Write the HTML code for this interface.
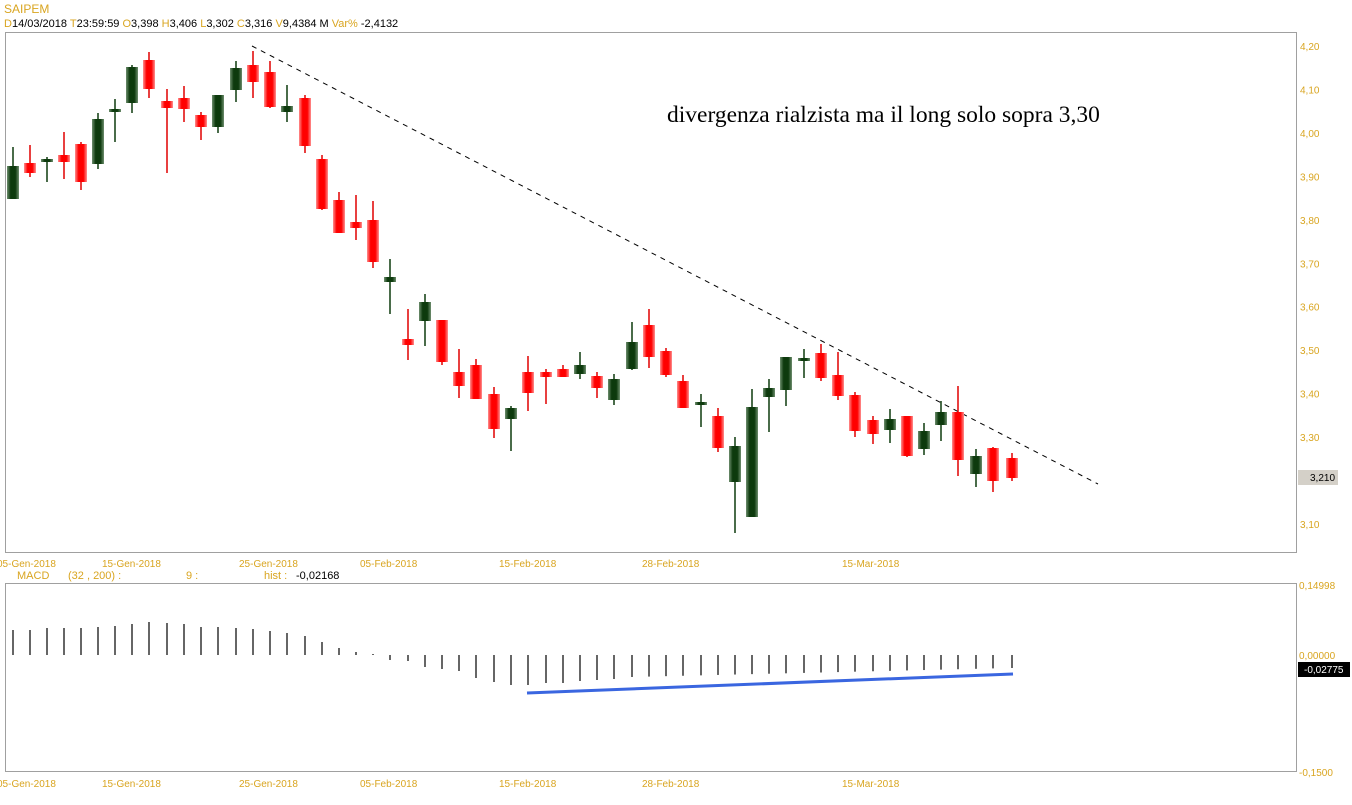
<!DOCTYPE html>
<html><head><meta charset="utf-8"><style>
body{margin:0;background:#fff;width:1352px;height:800px;overflow:hidden}
svg text{font-family:"Liberation Sans",sans-serif}
</style></head><body>
<svg id="s" width="1352" height="800" xmlns="http://www.w3.org/2000/svg">
<defs>
<linearGradient id="gr" x1="0" x2="1"><stop offset="0" stop-color="#6f8f6f"/><stop offset="0.3" stop-color="#0d3a0d"/><stop offset="0.7" stop-color="#0d3a0d"/><stop offset="1" stop-color="#6f8f6f"/></linearGradient>
<linearGradient id="rd" x1="0" x2="1"><stop offset="0" stop-color="#ff9090"/><stop offset="0.3" stop-color="#ff0000"/><stop offset="0.7" stop-color="#ff0000"/><stop offset="1" stop-color="#ff9090"/></linearGradient>
</defs>
<text x="4" y="13" font-size="12" fill="#d9a520">SAIPEM</text>
<text x="4" y="27" font-size="11" fill="#000"><tspan fill="#d9a520">D</tspan>14/03/2018 <tspan fill="#d9a520">T</tspan>23:59:59 <tspan fill="#d9a520">O</tspan>3,398 <tspan fill="#d9a520">H</tspan>3,406 <tspan fill="#d9a520">L</tspan>3,302 <tspan fill="#d9a520">C</tspan>3,316 <tspan fill="#d9a520">V</tspan>9,4384 M <tspan fill="#d9a520">Var%</tspan> -2,4132</text>
<rect x="5.5" y="32.5" width="1291" height="520" fill="none" stroke="#a0a0a0"/>
<rect x="5.5" y="583.5" width="1291" height="188" fill="none" stroke="#a0a0a0"/>
<line x1="252" y1="46" x2="1098" y2="484" stroke="#000" stroke-dasharray="5,5"/>
<text x="667" y="122" font-size="23.5" style="font-family:'Liberation Serif',serif">divergenza rialzista ma il long solo sopra 3,30</text>
<g id="c"></g>
<text x="-3" y="567" font-size="10" fill="#d9a520">05-Gen-2018</text>
<text x="102" y="567" font-size="10" fill="#d9a520">15-Gen-2018</text>
<text x="239" y="567" font-size="10" fill="#d9a520">25-Gen-2018</text>
<text x="360" y="567" font-size="10" fill="#d9a520">05-Feb-2018</text>
<text x="499" y="567" font-size="10" fill="#d9a520">15-Feb-2018</text>
<text x="642" y="567" font-size="10" fill="#d9a520">28-Feb-2018</text>
<text x="842" y="567" font-size="10" fill="#d9a520">15-Mar-2018</text>
<text x="17" y="579" font-size="11" fill="#d9a520">MACD</text>
<text x="68" y="579" font-size="11" fill="#d9a520">(32 , 200) :</text>
<text x="186" y="579" font-size="11" fill="#d9a520">9 :</text>
<text x="264" y="579" font-size="11" fill="#d9a520">hist :</text>
<text x="296" y="579" font-size="11" fill="#000">-0,02168</text>
<text x="-3" y="787" font-size="10" fill="#d9a520">05-Gen-2018</text>
<text x="102" y="787" font-size="10" fill="#d9a520">15-Gen-2018</text>
<text x="239" y="787" font-size="10" fill="#d9a520">25-Gen-2018</text>
<text x="360" y="787" font-size="10" fill="#d9a520">05-Feb-2018</text>
<text x="499" y="787" font-size="10" fill="#d9a520">15-Feb-2018</text>
<text x="642" y="787" font-size="10" fill="#d9a520">28-Feb-2018</text>
<text x="842" y="787" font-size="10" fill="#d9a520">15-Mar-2018</text>
<rect x="1298" y="470" width="40" height="15" fill="#d4d0c8"/>
<text x="1310" y="481" font-size="10" fill="#000">3,210</text>
<text x="1299" y="589" font-size="10" fill="#d9a520">0,14998</text>
<text x="1299" y="659" font-size="10" fill="#d9a520">0,00000</text>
<rect x="1298" y="662" width="52" height="15" fill="#000"/>
<text x="1304" y="673" font-size="10" fill="#fff">-0,02775</text>
<text x="1299" y="776" font-size="10" fill="#d9a520">-0,1500</text>
<line x1="527" y1="693" x2="1013" y2="674" stroke="#3a66e0" stroke-width="3"/>
</svg>
<script>
var C=[[13,166,199,147,199,1],[30,163,173,145,177,0],[47,159,161,157,182,1],[64,155,162,132,179,0],[81,144,182,142,190,0],[98,119,164,113,169,1],[115,109,112,99,142,1],[132,67,103,65,113,1],[149,60,89,52,98,0],[167,101,108,89,173,0],[184,98,109,86,122,0],[201,115,127,112,140,0],[218,95,127,95,133,1],[236,68,90,61,102,1],[253,65,82,51,98,0],[270,72,107,61,108,0],[287,106,112,85,122,1],[305,98,146,95,153,0],[322,159,209,155,210,0],[339,200,233,192,233,0],[356,222,228,195,240,0],[373,220,262,201,268,0],[390,277,282,259,314,1],[408,339,345,309,360,0],[425,302,321,294,346,1],[442,320,362,320,365,0],[459,372,386,349,398,0],[476,365,399,359,399,0],[494,394,429,387,438,0],[511,408,419,406,451,1],[528,372,393,356,411,0],[546,372,377,369,404,0],[563,369,377,365,377,0],[580,365,374,352,379,1],[597,376,388,372,398,0],[614,379,400,374,405,1],[632,342,369,322,370,1],[649,325,357,309,368,0],[666,351,375,348,377,0],[683,381,408,375,408,0],[701,402,405,394,427,1],[718,416,448,408,452,0],[735,446,482,437,533,1],[752,407,517,389,517,1],[769,388,397,379,432,1],[786,357,390,357,406,1],[804,358,360,349,378,1],[821,353,378,344,381,0],[838,375,396,352,400,0],[855,395,431,392,437,0],[873,420,434,416,444,0],[890,419,430,409,443,1],[907,416,456,416,457,0],[924,431,449,423,455,1],[941,412,425,401,441,1],[958,412,460,386,476,0],[976,456,474,449,487,1],[993,448,481,447,492,0],[1012,458,478,453,481,0]];
var M=[630,630,628,628,628,627,626,624,622,623,624,627,627,628,629,631,633,636,642,648,652,654,660,661,667,669,671,678,682,685,685,683,683,681,680,679,677];
var h='';
C.forEach(function(c,i){var col=c[5]?'#0d3a0d':'#e00000';
h+='<line x1="'+c[0]+'" x2="'+c[0]+'" y1="'+c[3]+'" y2="'+c[4]+'" stroke="'+col+'" stroke-width="1.5"/>';
h+='<rect x="'+(c[0]-6)+'" y="'+c[1]+'" width="12" height="'+Math.max(3,c[2]-c[1])+'" fill="url(#'+(c[5]?'gr':'rd')+')"/>';
var m=i<M.length?M[i]:677+(668-677)*(i-36)/(58-36);
h+='<line x1="'+c[0]+'" x2="'+c[0]+'" y1="655" y2="'+m+'" stroke="#000" stroke-width="1.2"/>';});
document.getElementById('c').innerHTML=h;
var s=document.getElementById('s');var t='';
['4,20','4,10','4,00','3,90','3,80','3,70','3,60','3,50','3,40','3,30','3,20','3,10'].forEach(function(v,k){if(v=='3,20')return;t+='<text x="1300" y="'+(50+k*43.45)+'" font-size="10" fill="#d9a520">'+v+'</text>';});
s.insertAdjacentHTML('beforeend',t);
</script>
</body></html>
